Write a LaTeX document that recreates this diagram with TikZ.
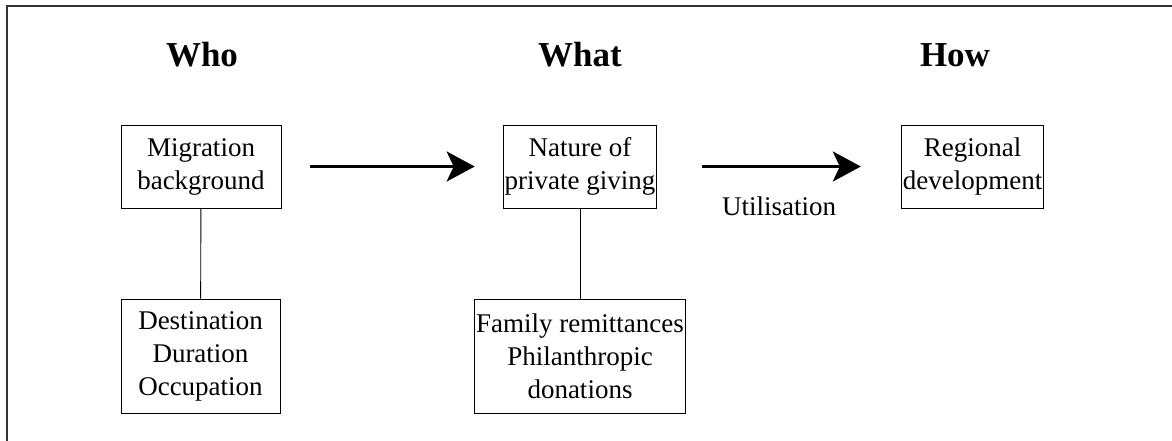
\documentclass[tikz,border=0pt]{standalone}
\usepackage{fontspec}
\setmainfont{Liberation Serif}
\usetikzlibrary{arrows.meta,positioning}

\tikzset{
  box/.style={draw, line width=0.9pt, align=center, inner sep=1.5pt,
    font=\fontsize{27}{33}\selectfont},
  head/.style={font=\fontsize{35}{40}\selectfont\bfseries},
  flow/.style={line width=3pt, -{Stealth[length=28pt,width=30pt,inset=7pt]}},
  link/.style={line width=0.9pt}
}

\begin{document}
\begin{tikzpicture}[x=1pt,y=-1pt]
% page and frame
\useasboundingbox (0,0) rectangle (1172,441);
\draw[line width=1.5pt, black!80] (7,441) -- (7,6) -- (1172,6);

% column heads
\node[head] (who) at (202,55) {Who};
\node[head] (what) at (580,55) {What};
\node[head] (how) at (955,55) {How};

% boxes
\node[box, minimum width=160pt, minimum height=83pt] (mig) at (201,166.5) {Migration\\background};
\node[box, minimum width=159pt, minimum height=114pt] (dest) at (200.5,356) {Destination\\Duration\\Occupation};

\node[box, minimum width=134pt, minimum height=83pt] (nat) at (580,166.5) {Nature of\\private giving};
\node[box, minimum width=194pt, minimum height=114pt] (fam) at (580,356) {Family remittances\\Philanthropic\\donations};

\node[box, minimum width=135pt, minimum height=83pt] (reg) at (972.5,166.5) {Regional\\development};

% connectors
\draw[link] (mig) -- (dest);
\draw[link] (nat) -- (fam);

\draw[flow, shorten <=29pt, shorten >=28pt] (mig) -- (nat);
\draw[flow, shorten <=45pt, shorten >=40pt] (nat) -- (reg)
  node[midway, below=25pt, font=\fontsize{27}{33}\selectfont] (util) {Utilisation};

\end{tikzpicture}
\end{document}
